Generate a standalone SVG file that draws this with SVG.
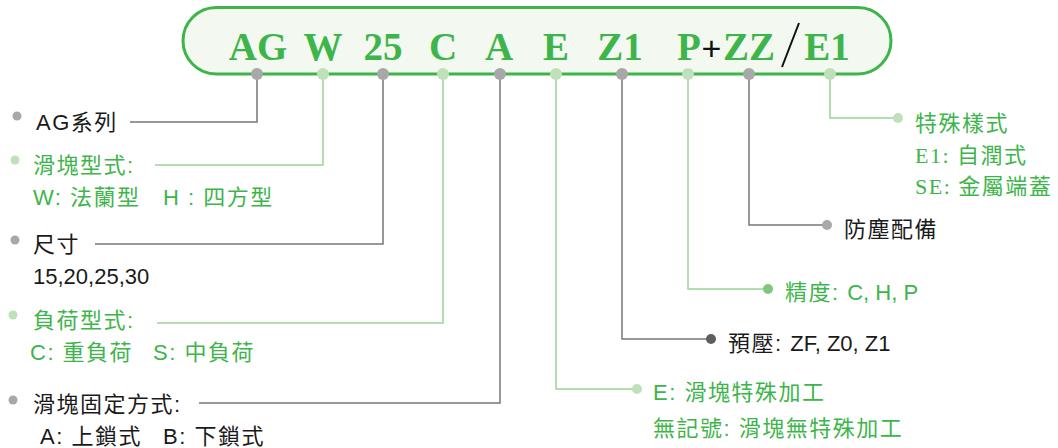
<svg xmlns="http://www.w3.org/2000/svg" width="1058" height="448" viewBox="0 0 1058 448">
<style>
.code{font-family:"Liberation Serif","Times New Roman",serif;font-weight:bold;font-size:39px;fill:#3db54a;text-anchor:middle}
.lbl{font-family:"Liberation Sans","Noto Sans CJK TC",sans-serif;font-size:22px;letter-spacing:1.5px;white-space:pre}
.ser{font-family:"Liberation Serif","Noto Sans CJK TC",serif;font-size:22px;letter-spacing:1.5px;white-space:pre}
.num{letter-spacing:0px}
.g{fill:#3db54a}
.k{fill:#1a1a1a}
.cg{fill:none;stroke:#9ad49a;stroke-width:1.5}
.ck{fill:none;stroke:#777;stroke-width:1.5}
.dg{fill:#bfe0bb}
.dk{fill:#a8a8a8}
</style>
<rect x="183" y="7.5" width="708" height="66.5" rx="33.25" fill="#f3f8f1" stroke="#3db54a" stroke-width="3"/>
<g id="connectors">
<polyline class="ck" points="130,122 257,122 257,74"/>
<polyline class="cg" points="155,165 323,165 323,74"/>
<polyline class="ck" points="95,244 383,244 383,74"/>
<polyline class="cg" points="157,323 443,323 443,74"/>
<polyline class="ck" points="199,403 500,403 500,74"/>
<polyline class="cg" points="556,74 556,389 637,389"/>
<polyline class="ck" stroke="#666" points="622,74 622,339 711,339"/>
<polyline class="cg" stroke="#8ccf88" points="688,74 688,289 768,289"/>
<polyline class="ck" points="749,74 749,225 827,225"/>
<polyline class="cg" stroke="#7ccc7c" points="830,74 830,118 898,118"/>
</g>
<g id="code-AG"><text class="code" x="258" y="60">AG</text><circle class="dk" cx="257" cy="74" r="6"/></g>
<g id="code-W"><text class="code" x="323" y="60">W</text><circle class="dg" cx="323" cy="74" r="6"/></g>
<g id="code-25"><text class="code" x="383" y="60">25</text><circle class="dk" cx="383" cy="74" r="6"/></g>
<g id="code-C"><text class="code" x="443" y="60">C</text><circle class="dg" cx="443" cy="74" r="6"/></g>
<g id="code-A"><text class="code" x="499" y="60">A</text><circle class="dk" cx="500" cy="74" r="6"/></g>
<g id="code-E"><text class="code" x="556" y="60">E</text><circle class="dg" cx="556" cy="74" r="6"/></g>
<g id="code-Z1"><text class="code" x="620" y="60">Z1</text><circle class="dk" cx="622" cy="74" r="6"/></g>
<g id="code-P"><text class="code" x="689" y="60">P</text><circle class="dg" cx="688" cy="74" r="6"/></g>
<g id="code-plus"><text x="711.5" y="60" font-family="Liberation Sans,sans-serif" font-size="34" text-anchor="middle" fill="#111">+</text></g>
<g id="code-ZZ"><text class="code" x="749" y="60">ZZ</text><circle class="dk" cx="749" cy="74" r="6"/></g>
<g id="code-slash"><line x1="799" y1="23" x2="782" y2="67" stroke="#111" stroke-width="2"/></g>
<g id="code-E1"><text class="code" x="827" y="60">E1</text><circle class="dg" cx="830" cy="74" r="6"/></g>

<g id="label-series"><circle class="dk" cx="17" cy="116" r="4.5"/><text class="lbl k" x="36" y="130">AG系列</text></g>
<g id="label-block"><circle class="dg" cx="15" cy="160" r="4.5"/><text class="lbl g" x="33" y="173">滑塊型式:</text><text class="lbl g" x="33" y="205">W: 法蘭型<tspan x="163">H : 四方型</tspan></text></g>
<g id="label-size"><circle class="dk" cx="15" cy="240" r="4.5"/><text class="lbl k" x="33" y="252">尺寸</text><text class="lbl k num" x="33" y="284">15,20,25,30</text></g>
<g id="label-load"><circle class="dg" cx="13" cy="315" r="4.5"/><text class="lbl g" x="33" y="328">負荷型式:</text><text class="lbl g" x="30" y="360">C: 重負荷<tspan x="153">S: 中負荷</tspan></text></g>
<g id="label-mount"><circle class="dk" cx="13" cy="400" r="4.5"/><text class="lbl k" x="33" y="412">滑塊固定方式:</text><text class="lbl k" x="40" y="444">A: 上鎖式<tspan x="163">B: 下鎖式</tspan></text></g>

<g id="label-special"><circle class="dg" cx="898" cy="118" r="5"/><text class="lbl g" x="915" y="131">特殊樣式</text><text class="ser g" x="915" y="163">E1: 自潤式</text><text class="ser g" x="915" y="194">SE: 金屬端蓋</text></g>
<g id="label-dust"><circle class="dk" cx="827" cy="225" r="5"/><text class="lbl k" x="844" y="237">防塵配備</text></g>
<g id="label-precision"><circle cx="768" cy="289" r="5" fill="#7dc87d"/><text class="lbl g" x="785" y="300">精度: <tspan class="num">C, H, P</tspan></text></g>
<g id="label-preload"><circle cx="711" cy="339" r="5" fill="#5e5e5e"/><text class="lbl k" x="728" y="351">預壓: <tspan class="num">ZF, Z0, Z1</tspan></text></g>
<g id="label-process"><circle class="dg" cx="637" cy="389" r="5"/><text class="lbl g" x="653" y="400">E: 滑塊特殊加工</text><text class="lbl g" x="653" y="436">無記號: 滑塊無特殊加工</text></g>
</svg>
